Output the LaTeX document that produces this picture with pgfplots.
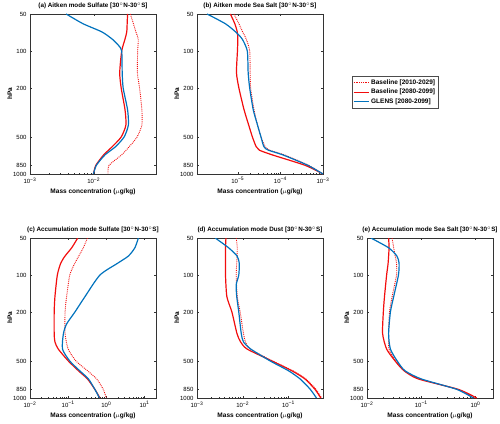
\documentclass[border=0pt]{standalone}
\usepackage{fontspec}
\setmainfont{Liberation Sans}
\usepackage{pgfplots}
\pgfplotsset{compat=1.18}
\definecolor{mblue}{rgb}{0,0.447,0.741}
\definecolor{mred}{rgb}{0.95,0.05,0.05}
\newcommand{\E}[1]{10\textsuperscript{#1}}
\pgfplotsset{
 myprof/.style={
  scale only axis, width=126pt, height=160pt,
  y dir=reverse, ymin=50, ymax=1000,
  ytick={50,100,200,500,850,1000}, yticklabels={50,100,200,500,850,1000},
  yminorticks=false,
  tick align=inside, major tick length=2.2pt, minor tick length=1.2pt,
  ticklabel style={font=\fontsize{6}{7}\selectfont},
  axis line style={black!80, line width=0.5pt},
  every tick/.style={black!80, line width=0.4pt},
  every axis title shift=0pt,
  title style={font=\bfseries\fontsize{6.3}{7}\selectfont, at={(axis description cs:0.5,1)}, anchor=center, yshift=8pt, inner sep=0pt},
  ylabel={hPa},
  ylabel style={font=\bfseries\fontsize{6.5}{7}\selectfont, at={(axis description cs:-0.16,0.5)}, anchor=center},
  xlabel={Mass concentration ($\mu$g/kg)},
  xlabel style={font=\bfseries\fontsize{6.5}{7}\selectfont, at={(axis description cs:0.5,-0.112)}, anchor=center},
 },
 mydot/.style={mred, densely dotted, line width=0.9pt, smooth, tension=0.4},
 mysol/.style={mred, line width=1.2pt, smooth, tension=0.4},
 myblu/.style={mblue, line width=1.2pt, smooth, tension=0.4},
}
\pgfplotsset{legend image code/.code={\draw[#1] (0pt,0pt) -- (15pt,0pt);}}
\begin{document}
\begin{tikzpicture}[x=1pt,y=1pt]
\path[use as bounding box] (0,0) rectangle (500,423);
% (a)
\begin{axis}[xmode=log, ymode=log, myprof, at={(30pt,249pt)}, anchor=south west,
  xmin=1e-3, xmax=0.095, xtick={1e-3,1e-2}, xticklabels={\E{−3},\E{−2}},
  title={(a) Aitken mode Sulfate [30$^{\circ}$N-30$^{\circ}$S]}]
\addplot[mydot] coordinates {(0.0376,50)(0.042,60)(0.046,70)(0.050,80)(0.049,100)(0.0485,150)(0.0525,200)(0.057,300)(0.057,400)(0.048,500)(0.036,600)(0.0274,700)(0.0174,850)(0.0168,1000)};
\addplot[mysol] coordinates {(0.034,50)(0.0335,60)(0.033,70)(0.031,80)(0.0275,100)(0.0256,150)(0.027,200)(0.031,300)(0.032,400)(0.027,500)(0.0195,600)(0.0143,700)(0.0108,850)(0.0099,1000)};
\addplot[myblu] coordinates {(0.0037,50)(0.0068,60)(0.0135,70)(0.0195,80)(0.0245,90)(0.0275,100)(0.028,150)(0.029,200)(0.034,300)(0.035,400)(0.030,500)(0.022,600)(0.015,700)(0.011,850)(0.0099,1000)};
\end{axis}
% (b)
\begin{axis}[xmode=log, ymode=log, myprof, at={(197pt,249pt)}, anchor=south west,
  xmin=1.1e-6, xmax=1e-3, xtick={1e-5,1e-4,1e-3}, xticklabels={\E{−5},\E{−4},\E{−3}},
  title={(b) Aitken mode Sea Salt [30$^{\circ}$N-30$^{\circ}$S]},
  legend style={at={(1.23,0.6125)}, anchor=north west, draw=black!70, line width=0.6pt, fill=white,
   font=\bfseries\fontsize{6.5}{7.5}\selectfont, inner sep=1pt, row sep=-0.5pt},
  legend cell align=left]
\addlegendimage{mred, densely dotted, line width=0.8pt}
\addlegendentry{Baseline [2010-2029]}
\addlegendimage{mred, solid, line width=0.9pt}
\addlegendentry{Baseline [2080-2099]}
\addlegendimage{color=mblue, solid, line width=0.9pt}
\addlegendentry{GLENS [2080-2099]}
\addplot[mydot, forget plot] coordinates {(8.1e-6,50)(1.06e-5,60)(1.3e-5,70)(1.58e-5,80)(1.9e-5,100)(1.95e-5,150)(2.0e-5,200)(2.4e-5,300)(2.9e-5,400)(3.5e-5,500)(4.4e-5,600)(5.6e-5,640)(1.25e-4,700)(4.6e-4,850)(1e-3,1000)};
\addplot[mysol, forget plot] coordinates {(6.7e-6,50)(8.5e-6,60)(9.7e-6,70)(1.0e-5,80)(9.8e-6,100)(9.3e-6,150)(1.06e-5,200)(1.4e-5,300)(1.8e-5,400)(2.2e-5,500)(2.7e-5,600)(3.2e-5,640)(6.5e-5,700)(3.8e-4,850)(1e-3,1000)};
\addplot[myblu, forget plot] coordinates {(1.9e-6,50)(5.1e-6,60)(8.9e-6,70)(1.27e-5,80)(1.67e-5,100)(1.75e-5,150)(1.9e-5,200)(2.3e-5,300)(2.9e-5,400)(3.5e-5,500)(4.1e-5,600)(5.2e-5,640)(1.15e-4,700)(4.4e-4,850)(1e-3,1000)};
\end{axis}
% (c)
\begin{axis}[xmode=log, ymode=log, myprof, at={(30pt,25pt)}, anchor=south west,
  xmin=1e-2, xmax=20, xtick={1e-2,1e-1,1,10}, xticklabels={\E{−2},\E{−1},\E{0},\E{1}},
  title={(c) Accumulation mode Sulfate [30$^{\circ}$N-30$^{\circ}$S]}]
\addplot[mydot] coordinates {(0.32,50)(0.25,60)(0.19,70)(0.15,80)(0.11,100)(0.091,150)(0.083,200)(0.083,300)(0.1,400)(0.16,500)(0.32,600)(0.56,700)(0.83,850)(1.0,1000)};
\addplot[mysol] coordinates {(0.178,50)(0.124,60)(0.083,70)(0.064,80)(0.052,100)(0.045,150)(0.043,200)(0.043,300)(0.045,350)(0.055,400)(0.101,500)(0.185,600)(0.32,700)(0.50,850)(0.68,1000)};
\addplot[myblu] coordinates {(6.9,50)(5.6,60)(3.8,70)(2.0,80)(0.68,100)(0.275,150)(0.15,200)(0.091,250)(0.075,300)(0.071,400)(0.11,500)(0.2,600)(0.34,700)(0.5,850)(0.66,1000)};
\end{axis}
% (d)
\begin{axis}[xmode=log, ymode=log, myprof, at={(197pt,25pt)}, anchor=south west,
  xmin=1e-3, xmax=0.57, xtick={1e-3,1e-2,1e-1}, xticklabels={\E{−3},\E{−2},\E{−1}},
  title={(d) Accumulation mode Dust [30$^{\circ}$N-30$^{\circ}$S]}]
\addplot[mydot] coordinates {(7.2e-3,50)(7.6e-3,60)(7.4e-3,80)(7.2e-3,100)(7.6e-3,150)(8.8e-3,200)(0.0104,300)(0.0115,350)(0.0146,400)(0.045,500)(0.125,600)(0.24,700)(0.40,850)(0.53,1000)};
\addplot[mysol] coordinates {(4.3e-3,50)(4.2e-3,60)(4.2e-3,80)(4.2e-3,100)(4.5e-3,150)(5.8e-3,200)(7.5e-3,300)(9.0e-3,350)(0.0125,400)(0.0435,500)(0.118,600)(0.23,700)(0.38,850)(0.51,1000)};
\addplot[myblu] coordinates {(2.5e-3,50)(4.9e-3,60)(7.5e-3,70)(8.4e-3,80)(8.2e-3,100)(7.2e-3,120)(7.4e-3,150)(8.2e-3,200)(9.3e-3,300)(1.04e-2,350)(1.5e-2,400)(0.04,500)(0.1,600)(0.18,700)(0.3,850)(0.41,1000)};
\end{axis}
% (e)
\begin{axis}[xmode=log, ymode=log, myprof, at={(367pt,25pt)}, anchor=south west,
  xmin=1e-2, xmax=2.1, xtick={1e-2,1e-1,1}, xticklabels={\E{−2},\E{−1},\E{0}},
  title={(e) Accumulation mode Sea Salt [30$^{\circ}$N-30$^{\circ}$S]}]
\addplot[mydot] coordinates {(0.029,50)(0.031,60)(0.033,70)(0.035,80)(0.035,100)(0.029,150)(0.026,200)(0.025,300)(0.0255,400)(0.034,500)(0.049,600)(0.095,700)(0.46,850)(1.0,1000)};
\addplot[mysol] coordinates {(0.025,50)(0.0255,60)(0.0245,80)(0.023,100)(0.021,150)(0.020,200)(0.0194,300)(0.023,400)(0.033,500)(0.048,600)(0.088,700)(0.48,850)(1.05,1000)};
\addplot[myblu] coordinates {(0.0118,50)(0.025,60)(0.0355,70)(0.039,80)(0.038,100)(0.031,150)(0.027,200)(0.025,300)(0.027,400)(0.036,500)(0.05,600)(0.1,700)(0.45,850)(0.91,1000)};
\end{axis}
\end{tikzpicture}
\end{document}
